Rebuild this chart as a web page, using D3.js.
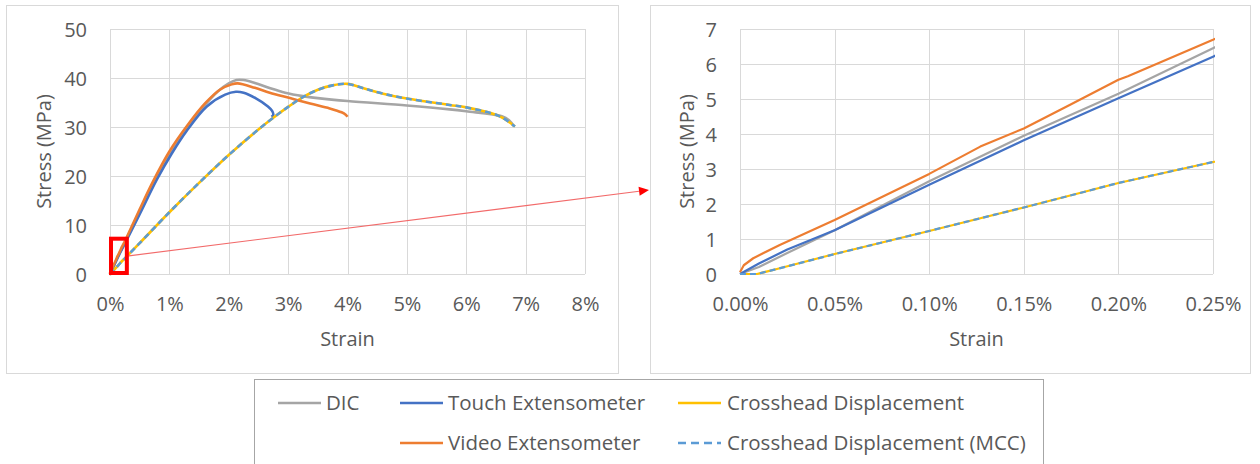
<!DOCTYPE html>
<html>
<head>
<meta charset="utf-8">
<script src="https://cdn.jsdelivr.net/npm/d3@7"></script>
<style>
  html, body { margin: 0; padding: 0; background: #ffffff; }
  svg { display: block; }
  text { font-family: "Open Sans", "Noto Sans", sans-serif; fill: #595959; }
</style>
</head>
<body>
<svg id="chart" width="1260" height="464"></svg>
<script>
// ---------------- DATA ----------------
const seriesNames = ["DIC", "Touch Extensometer", "Crosshead Displacement", "Video Extensometer", "Crosshead Displacement (MCC)"];

// DIC
const strainDIC = [0, 0.0001, 0.00025, 0.0005, 0.001, 0.0015, 0.002, 0.0025, 0.0035, 0.005, 0.007, 0.010, 0.0132, 0.016, 0.0182, 0.020, 0.0213, 0.0225, 0.0244, 0.027, 0.0295, 0.0325, 0.035, 0.040, 0.050, 0.0572, 0.060, 0.066, 0.0672, 0.068];
const stressDIC = [0, 0.2, 0.6, 1.25, 2.65, 3.95, 5.15, 6.45, 9.0, 12.8, 17.9, 24.6, 30.3, 34.5, 37.3, 38.9, 39.6, 39.6, 39.0, 37.9, 37.0, 36.3, 35.9, 35.3, 34.4, 33.6, 33.2, 32.2, 31.4, 30.2];

// Touch Extensometer
const strainTouch = [0, 0.0001, 0.00025, 0.0005, 0.001, 0.0015, 0.002, 0.0025, 0.005, 0.0079, 0.0104, 0.0129, 0.0163, 0.0194, 0.0212, 0.0225, 0.0245, 0.0266, 0.0273, 0.0275, 0.0272];
const stressTouch = [0, 0.3, 0.7, 1.25, 2.55, 3.82, 5.02, 6.21, 12.2, 19.3, 24.6, 29.2, 34.2, 36.6, 37.2, 37.0, 35.9, 34.2, 33.3, 32.5, 32.1];

// Crosshead Displacement (identical values are shown for the MCC series)
const strainCross = [0, 0.00009, 0.0002, 0.0005, 0.001, 0.0015, 0.002, 0.0025, 0.005, 0.010, 0.015, 0.020, 0.025, 0.0275, 0.030, 0.0325, 0.035, 0.0375, 0.040, 0.0427, 0.046, 0.050, 0.0572, 0.060, 0.065, 0.0665, 0.0682];
const stressCross = [0, 0, 0.15, 0.57, 1.23, 1.9, 2.6, 3.2, 6.3, 12.6, 18.6, 24.3, 29.5, 31.9, 34.1, 36.1, 37.6, 38.5, 38.8, 37.9, 36.8, 35.8, 34.5, 34.0, 32.5, 31.6, 30.1];

// Video Extensometer
const strainVideo = [0, 0.00002, 0.00007, 0.00021, 0.0005, 0.001, 0.00127, 0.0015, 0.00175, 0.002, 0.00205, 0.0025, 0.0035, 0.005, 0.007, 0.010, 0.0132, 0.016, 0.0185, 0.0205, 0.0215, 0.0244, 0.0269, 0.0303, 0.0337, 0.037, 0.039, 0.0397, 0.040];
const stressVideo = [0.05, 0.25, 0.45, 0.83, 1.54, 2.86, 3.64, 4.16, 4.85, 5.55, 5.65, 6.69, 9.3, 13.2, 18.3, 25.0, 30.6, 34.8, 37.6, 38.7, 38.9, 38.0, 37.0, 35.9, 34.8, 33.8, 33.0, 32.5, 32.1];

// Ticks
const leftXTicks = [0, 0.01, 0.02, 0.03, 0.04, 0.05, 0.06, 0.07, 0.08];
const leftYTicks = [0, 10, 20, 30, 40, 50];
const rightXTicks = [0, 0.0005, 0.001, 0.0015, 0.002, 0.0025];
const rightYTicks = [0, 1, 2, 3, 4, 5, 6, 7];

// Zoom window shown in the right chart
const zoomStrain = [0, 0.0025];
const zoomStress = [0, 7];

const colors = {
  "DIC": "#a5a5a5",
  "Touch Extensometer": "#4472c4",
  "Crosshead Displacement": "#ffc000",
  "Video Extensometer": "#ed7d31",
  "Crosshead Displacement (MCC)": "#5b9bd5"
};

const seriesData = [
  { name: "DIC", x: strainDIC, y: stressDIC },
  { name: "Touch Extensometer", x: strainTouch, y: stressTouch },
  { name: "Crosshead Displacement", x: strainCross, y: stressCross },
  { name: "Video Extensometer", x: strainVideo, y: stressVideo },
  { name: "Crosshead Displacement (MCC)", x: strainCross, y: stressCross, dashed: true }
];

// ---------------- DRAW ----------------
const svg = d3.select("#chart");

// chart frames
svg.append("rect").attr("x", 6.5).attr("y", 5.5).attr("width", 612).attr("height", 368)
  .attr("fill", "#fff").attr("stroke", "#d9d9d9");
svg.append("rect").attr("x", 650.5).attr("y", 5.5).attr("width", 600).attr("height", 368)
  .attr("fill", "#fff").attr("stroke", "#d9d9d9");

function drawChart(opts) {
  const g = svg.append("g");
  const x = d3.scaleLinear().domain(opts.xDomain).range([opts.left, opts.right]);
  const y = d3.scaleLinear().domain(opts.yDomain).range([opts.bottom, opts.top]);

  // grid
  g.append("g").selectAll("line").data(opts.xTicks).join("line")
    .attr("x1", d => Math.round(x(d)) + 0.5).attr("x2", d => Math.round(x(d)) + 0.5)
    .attr("y1", opts.top).attr("y2", opts.bottom)
    .attr("stroke", "#d9d9d9").attr("stroke-width", 1);
  g.append("g").selectAll("line").data(opts.yTicks).join("line")
    .attr("y1", d => Math.round(y(d)) + 0.5).attr("y2", d => Math.round(y(d)) + 0.5)
    .attr("x1", opts.left).attr("x2", opts.right)
    .attr("stroke", "#d9d9d9").attr("stroke-width", 1);

  // axes via d3 axis generators (labels only)
  const xAxis = d3.axisBottom(x).tickValues(opts.xTicks).tickFormat(d3.format(opts.xFormat)).tickSize(0).tickPadding(0);
  const gx = g.append("g").attr("transform", `translate(0,${opts.bottom})`).call(xAxis);
  gx.select(".domain").remove();
  gx.selectAll("text").attr("y", 37).attr("dy", 0)
    .style("font-size", "20px").style("font-family", '"Open Sans", sans-serif').attr("fill", "#595959");

  const yAxis = d3.axisLeft(y).tickValues(opts.yTicks).tickFormat(d3.format("d")).tickSize(0).tickPadding(0);
  const gy = g.append("g").attr("transform", `translate(${opts.left},0)`).call(yAxis);
  gy.select(".domain").remove();
  gy.selectAll("text").attr("x", -23).attr("dy", 7)
    .style("font-size", "20px").style("font-family", '"Open Sans", sans-serif').attr("fill", "#595959");

  // titles
  g.append("text").attr("x", (opts.left + opts.right) / 2).attr("y", 346)
    .attr("text-anchor", "middle").style("font-size", "20px").text("Strain");
  g.append("text")
    .attr("transform", `translate(${opts.yTitleX},${(opts.top + opts.bottom) / 2}) rotate(-90)`)
    .attr("text-anchor", "middle").style("font-size", "20px").text("Stress (MPa)");

  // clip
  const clipId = "clip" + opts.id;
  svg.append("clipPath").attr("id", clipId).append("rect")
    .attr("x", opts.left - 2).attr("y", opts.top - 2)
    .attr("width", opts.right - opts.left + 4).attr("height", opts.bottom - opts.top + 4);

  const line = d3.line()
    .x(d => x(d[0])).y(d => y(d[1]))
    .curve(opts.curve);

  const lg = g.append("g").attr("clip-path", `url(#${clipId})`);
  seriesData.forEach(s => {
    const pts = s.x.map((v, i) => [v, s.y[i]]);
    lg.append("path").datum(pts)
      .attr("d", line)
      .attr("fill", "none")
      .attr("stroke", colors[s.name])
      .attr("stroke-width", opts.lw)
      .attr("stroke-linejoin", "round")
      .attr("stroke-dasharray", s.dashed ? "6,4" : null);
  });
  return { x, y };
}

const L = drawChart({
  id: "L", left: 110, right: 585, top: 29, bottom: 274,
  xDomain: [0, 0.08], yDomain: [0, 50],
  xTicks: leftXTicks, yTicks: leftYTicks, xFormat: ".0%",
  yTitleX: 51, lw: 2.6, curve: d3.curveCatmullRom.alpha(0.5)
});
const R = drawChart({
  id: "R", left: 740, right: 1213, top: 29, bottom: 274,
  xDomain: [0, 0.0025], yDomain: [0, 7],
  xTicks: rightXTicks, yTicks: rightYTicks, xFormat: ".2%",
  yTitleX: 694, lw: 2.2, curve: d3.curveLinear
});

// zoom box on left chart
const bx0 = L.x(zoomStrain[0]), bx1 = L.x(zoomStrain[1]) + 1;
const by0 = L.y(zoomStress[1]) - 1, by1 = L.y(zoomStress[0]) - 1;
svg.append("rect").attr("x", bx0 + 1).attr("y", by0)
  .attr("width", bx1 - bx0).attr("height", by1 - by0)
  .attr("fill", "none").attr("stroke", "#ff0000").attr("stroke-width", 4);

// arrow from box to right chart
const ax0 = bx1 + 3, ay0 = (by0 + by1) / 2;
const ax1 = 649, ay1 = 190;
const ang = Math.atan2(ay1 - ay0, ax1 - ax0);
const hl = 10, hw = 4.5;
const bxh = ax1 - hl * Math.cos(ang), byh = ay1 - hl * Math.sin(ang);
svg.append("line").attr("x1", ax0).attr("y1", ay0).attr("x2", bxh).attr("y2", byh)
  .attr("stroke", "#f26a6a").attr("stroke-width", 1.2);
svg.append("path")
  .attr("d", `M${ax1},${ay1} L${bxh - hw * Math.sin(ang)},${byh + hw * Math.cos(ang)} L${bxh + hw * Math.sin(ang)},${byh - hw * Math.cos(ang)} Z`)
  .attr("fill", "#ff0000");

// legend
svg.append("rect").attr("x", 254.5).attr("y", 379.5).attr("width", 789).attr("height", 120)
  .attr("fill", "#fff").attr("stroke", "#a6a6a6");
const legendItems = [
  { name: seriesNames[0], lx: 278, tx: 326, row: 0 },
  { name: seriesNames[1], lx: 400, tx: 448, row: 0 },
  { name: seriesNames[2], lx: 678, tx: 727, row: 0 },
  { name: seriesNames[3], lx: 400, tx: 448, row: 1 },
  { name: seriesNames[4], lx: 678, tx: 727, row: 1, dashed: true }
];
const rowY = [403, 443];
const lgG = svg.append("g");
legendItems.forEach(it => {
  const yy = rowY[it.row];
  lgG.append("line").attr("x1", it.lx).attr("x2", it.lx + 43).attr("y1", yy).attr("y2", yy)
    .attr("stroke", colors[it.name]).attr("stroke-width", 2.5)
    .attr("stroke-dasharray", it.dashed ? "8,5" : null);
  lgG.append("text").attr("x", it.tx).attr("y", yy + 7).style("font-size", "20.5px").text(it.name);
});
</script>
</body>
</html>
